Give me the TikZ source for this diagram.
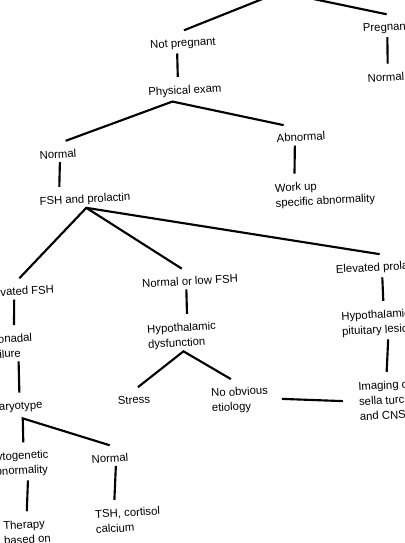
\documentclass[tikz,border=0pt]{standalone}
\usepackage{fontspec}
\setmainfont{Liberation Sans}
\usetikzlibrary{calc}
\newcommand{\stemto}[4]{%
  \draw[link] ($(#1.south west)!#2!(#1.south east)+(0,2.5)$) -- ($(#3.north west)!#4!(#3.north east)+(0,-7.5)$);}
\newcommand{\forkto}[5]{%
  \draw[link] ($(#2.north west)!#3!(#2.north east)+(0,-7)$) -- (#1) -- ($(#4.north west)!#5!(#4.north east)+(0,-7)$);}

\begin{document}
\begin{tikzpicture}[x=0.75pt, y=-0.75pt,
    every node/.style={font=\fontsize{8.5}{11.25}\selectfont, rotate=3, inner sep=1pt, align=left},
    link/.style={line width=1.6pt}]
  \useasboundingbox (0,0) rectangle (404,543);
  \clip (0,0) rectangle (404,543);
  \coordinate (test) at (280,-8);
  \node (notpreg)  at (183,44)  {Not pregnant};
  \node (pregnant) at (386,28)  {Pregnant};
  \node (normalR)  at (386,77)  {Normal};
  \node (physexam) at (185,91)  {Physical exam};
  \node (normalL)  at (58,154)  {Normal};
  \node (abnormal) at (301,137) {Abnormal};
  \node (workup)   at (325,194) {Work up\\specific abnormality};
  \node (fshprl)   at (85,200)  {FSH and prolactin};
  \node (elevfsh)  at (19,291)  {Elevated FSH};
  \node (nlfsh)    at (190,281) {Normal or low FSH};
  \node (elevprl)  at (381,268) {Elevated prolactin};
  \node (gonadal)  at (11,346)  {Gonadal\\failure};
  \node (karyo)    at (17,407)  {Karyotype};
  \node (cyto)     at (19,464)  {Cytogenetic\\abnormality};
  \node (normal2)  at (110,458) {Normal};
  \node (therapy)  at (27,532)  {Therapy\\based on};
  \node (tsh)      at (128,520) {TSH, cortisol\\calcium};
  \node (hypdys)   at (182,336) {Hypothalamic\\dysfunction};
  \node (stress)   at (134,400) {Stress};
  \node (noobv)    at (240,400) {No obvious\\etiology};
  \node (hplesion) at (378,323) {Hypothalamic-\\pituitary lesion};
  \node (imaging)  at (389,400) {Imaging of\\sella turcica\\and CNS};
  % forks
  \coordinate (exam-fork)  at ($(physexam.south west)!0.33!(physexam.south east)+(0,3)$);
  \coordinate (lab-fork)   at ($(fshprl.south west)!0.51!(fshprl.south east)+(0,1)$);
  \coordinate (hypo-fork)  at ($(hypdys.south west)!0.51!(hypdys.south east)+(0,1)$);
  \coordinate (karyo-fork) at ($(karyo.south west)!0.6!(karyo.south east)+(0,5)$);
  \forkto{test}{notpreg}{0.52}{pregnant}{0.52}
  \forkto{exam-fork}{normalL}{0.7}{abnormal}{0.17}
  \forkto{lab-fork}{elevfsh}{0.51}{elevprl}{0.49}
  \draw[link] (lab-fork) -- ($(nlfsh.north west)!0.42!(nlfsh.north east)+(0,-7)$);
  \forkto{hypo-fork}{stress}{0.62}{noobv}{0.36}
  \forkto{karyo-fork}{cyto}{0.58}{normal2}{0.5}
  % stems
  \stemto{notpreg}{0.41}{physexam}{0.41}
  \stemto{pregnant}{0.52}{normalR}{0.55}
  \stemto{normalL}{0.54}{fshprl}{0.23}
  \stemto{abnormal}{0.375}{workup}{0.21}
  \stemto{elevfsh}{0.43}{gonadal}{0.58}
  \stemto{gonadal}{0.65}{karyo}{0.55}
  \stemto{cyto}{0.63}{therapy}{0.51}
  \stemto{normal2}{0.64}{tsh}{0.31}
  \stemto{nlfsh}{0.46}{hypdys}{0.58}
  \stemto{elevprl}{0.51}{hplesion}{0.58}
  \stemto{hplesion}{0.625}{imaging}{0.48}
  \draw[link, shorten <=9pt, shorten >=11pt] (noobv.east) -- (imaging.west);
\end{tikzpicture}
\end{document}
